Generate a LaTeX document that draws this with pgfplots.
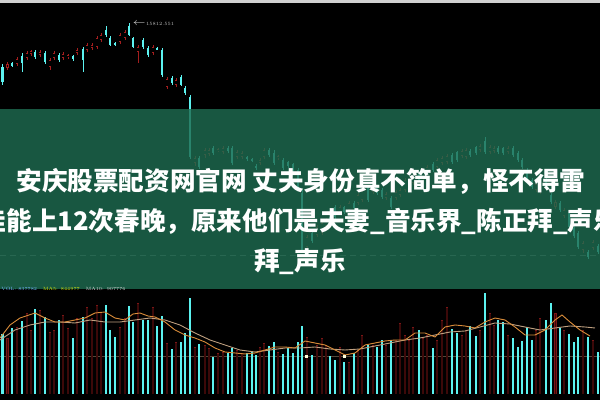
\documentclass[border=0pt]{standalone}
\usepackage{pgfplots}
\pgfplotsset{compat=1.18}
\usepackage{pgfplotstable}
\usepackage{fontspec}
\newfontfamily\cjk{Noto Sans CJK SC}
\definecolor{cy}{HTML}{5CF2F0}
\definecolor{rd}{HTML}{A41E1E}
\definecolor{rdv}{HTML}{7A1616}
\definecolor{rdfill}{HTML}{3C0909}
\definecolor{ban}{HTML}{1E6B50}
\definecolor{maA}{HTML}{D98C3A}
\definecolor{maB}{HTML}{C0A080}
\pgfplotsset{
  bar/.style 2 args={draw=none, mark=none, forget plot,
    error bars/.cd, y dir=both, y explicit, error mark=none,
    error bar style={draw=#1, line width=#2}},
}

% candles: x, wick top, body top, body bottom, wick bottom (image rows)
\pgfplotstableread{
x wt bt bb wb
2.7 64 67 82 85
12 62 63 66 67
22 53 56 63 72
35 50 52 57 59
45 51 53 62 64
59 53 55 60 62
73 55 56 59 61
83 47 49 60 72
106 26 30 35 37
110 36 38 45 46
115 42 43 44.5 46
129 23 26 35 36
133 37 38 47 48
143 38 40 47 49
148 46 48 55 57
157 47 48 49.5 50
162 48 50 75 77
172 76 78 83 85
181 75 77 85 86
185 86 88 93 95
190 95 97 157 159
199 156 158 167 169
213 146 148 153 155
228 146 148 151 153
232 146 148 163 165
247 156 157 159 161
252 158 159.5 161 162
256 164 166 168 170
269 148 150 155 157
274 150 153 163 165
283 158 160 168 170
288 161 162 166 168
293 163 164 170 172
298 168 170 188 190
302 190 193 250 253
312 231 233 241 243
330 215 217 223 225
335 205 207 217 219
344 206 207 212 214
354 201 203 208 210
368 185 187 200 202
377 186 188 193 195
382 188 190 197 199
391 196 198 207 209
419 172 174 180 182
433 162 164 170 172
452 153 155 162 164
457 151 152 160 162
470 149 151 155 157
476 146 147 153 155
485 137 141 152 154
498 146 148 152 154
503 147 148 153 155
513 146 148 155 157
518 151 153 160 162
522 158 160 167 169
527 168 170 178 180
532 178 180 187 189
546 178 180 188 190
551 193 195 202 204
560 201 203 210 212
569 211 213 227 229
574 226 228 236 238
578 231 233 247 249
588 250 252 257 259
598 244 246 252 254
}\downc

\pgfplotstableread{
x wt bt bb wb
7.5 62 64 68 70
17 57 59 64 66
27 51 53 58 60
31 50 51 54 56
40 50 52 55 57
50 58 60 67 70
54 51 53 58 60
63 52 54 58 60
68 54 55.5 57 59
77 48 50 53 55
87 43 45 50 52
92 43 45 48 50
97 36 38 47 49
101 33 35 40 42
120 33 35 42 44
125 30 32 38 40
138 45 47 52 63
153 45 47 53 55
167 77 79 87 89
176 78 80 85 87
195 156 158 163 166
205 148 150 155 158
209 148 150 154 156
218 148 149.5 151 152
223 146 148 152 154
237 150 152 157 159
242 151 153 157 159
260 158 160 163 165
264 148 150 157 159
278 155 156.5 158 160
307 235 237 247 250
317 225 227 235 237
322 221 223 233 235
326 218 220 226 228
340 205 207 212 214
349 201 203 210 212
358 193 195 203 205
362 189 191 200 202
373 184 186 192 194
386 192 194 198 200
396 190 192 198 200
400 188 190 195 197
405 178 180 190 192
409 178 180 186 188
413 175 177 183 185
423 170 172 178 180
427 165 167 177 179
437 158 160 167 169
442 156 158 163 165
447 154 156 162 164
462 149 151 156 158
466 148 150 157 159
480 144 146 150 152
490 145 147 152 154
494 146 148 151 153
508 146 148 152 154
536 182 184 190 192
540 184 186 192 194
555.5 200 202 207 209
564 208 210 216 218
583 241 243 250 253
593 240 242 248 250
}\upc

% volume bars: x, top row (baseline at row 394)
\pgfplotstableread{
x top
2.7 334
12 328
22 321
35 309
45 317
59 320
73 338
83 317
106 305
110 330
115 337
129 306
133 322
143 320
148 320
157 326
162 316
172 349
181 342
185 333
190 298
199 344
213 357
228 353
232 348
247 353
252 351
256 355
269 346
274 342
283 354
288 348
293 353
298 342
302 326
312 355
330 356
335 360
344 362
354 353
368 345
377 347
382 340
391 340
419 330
433 348
452 329
457 333
470 326
476 336
485 293
498 320
503 322
513 338
518 347
522 341
527 327
532 340
546 320
551 303
560 328
569 334
574 342
578 337
588 337
598 352
}\volc

\pgfplotstableread{
x top
7.5 338
17 327
27 313
31 330
40 310
50 332
54 330
63 315
68 328
77 318
87 307
92 318
97 305
101 312
120 327
125 318
138 303
153 307
167 343
176 342
195 347
205 345
209 348
218 353
223 352
237 350
242 353
260 347
264 343
278 352
307 337
317 345
322 338
326 345
340 347
349 362
358 350
362 335
373 345
386 345
396 340
400 323
405 335
409 340
413 327
423 338
427 335
437 340
442 320
447 307
462 335
466 330
480 330
490 313
494 325
508 335
536 330
540 318
555.5 313
564 330
583 330
593 340
}\volr

\begin{document}
\begin{tikzpicture}
\begin{axis}[
  scale only axis, width=300pt, height=200pt,
  xmin=0, xmax=600, ymin=0, ymax=400, y dir=reverse,
  hide axis, clip=true,
]
% background
\fill[black] (axis cs:0,0) rectangle (axis cs:600,400);
\fill[white!82!black] (axis cs:0,0) rectangle (axis cs:600,2.6);
% faint grid lines
\addplot[color=white!35!black, line width=0.25pt, densely dashed, forget plot] coordinates {(0,255) (600,255)};
\addplot[color=maB!45!black, line width=0.3pt, forget plot] coordinates {(0,356) (600,356)};

% ---- candles: wicks
\addplot[bar={cy}{0.35pt}]
  table[x=x, y expr={(\thisrow{wt}+\thisrow{wb})/2}, y error expr={(\thisrow{wb}-\thisrow{wt})/2}] {\downc};
\addplot[bar={rd}{0.35pt}]
  table[x=x, y expr={(\thisrow{wt}+\thisrow{wb})/2}, y error expr={(\thisrow{wb}-\thisrow{wt})/2}] {\upc};
% bodies
\addplot[bar={cy}{1.45pt}]
  table[x=x, y expr={(\thisrow{bt}+\thisrow{bb})/2}, y error expr={(\thisrow{bb}-\thisrow{bt})/2}] {\downc};
\addplot[bar={rd}{1.4pt}]
  table[x=x, y expr={(\thisrow{bt}+\thisrow{bb})/2}, y error expr={(\thisrow{bb}-\thisrow{bt})/2}] {\upc};
\addplot[bar={black}{0.75pt}]
  table[x=x, y expr={(\thisrow{bt}+\thisrow{bb})/2}, y error expr={max((\thisrow{bb}-\thisrow{bt})/2-0.7,0)}] {\upc};

% ---- volume bars
\addplot[bar={rdv}{1.45pt}]
  table[x=x, y expr={(\thisrow{top}+394)/2}, y error expr={(394-\thisrow{top})/2}] {\volr};
\addplot[bar={rdfill}{0.85pt}]
  table[x=x, y expr={(\thisrow{top}+394.6)/2}, y error expr={(393.4-\thisrow{top})/2}] {\volr};
\addplot[bar={cy}{1.45pt}]
  table[x=x, y expr={(\thisrow{top}+394)/2}, y error expr={(394-\thisrow{top})/2}] {\volc};

% volume moving averages
\addplot[color=maB, line width=0.45pt, mark=none] coordinates {
(0,340) (15,330) (30,325) (45,322) (60,322) (75,323) (90,320) (105,322) (120,322)
(135,320) (150,318) (165,320) (180,325) (195,333) (210,340) (225,345) (240,350)
(255,352) (270,350) (285,348) (300,348) (315,347) (330,349) (345,350) (360,349)
(375,346) (390,343) (405,340) (420,338) (435,335) (450,332) (465,331) (480,327)
(495,323) (510,324) (525,327) (540,330) (555,328) (570,326) (585,327) (595,328)};
\addplot[color=maA, line width=0.45pt, mark=none] coordinates {
(0,338) (10,325) (20,318) (35,313) (45,318) (55,322) (65,322) (75,320) (85,318)
(95,313) (105,312) (115,318) (125,320) (133,314) (140,313) (148,316) (155,317)
(165,322) (175,330) (185,335) (195,338) (205,342) (215,348) (225,352) (235,353)
(245,354) (255,353) (265,350) (275,347) (285,347) (295,348) (305,341) (315,343)
(325,345) (335,350) (345,355) (355,353) (365,345) (375,343) (385,341) (395,340)
(405,340) (415,333) (425,333) (435,337) (445,327) (455,325) (465,326) (475,328)
(485,322) (495,318) (505,320) (515,327) (525,335) (535,335) (545,330) (555,320)
(562,315) (570,322) (580,330) (590,336)};
\addplot[only marks, mark=square*, mark size=0.5pt, color=white!85!yellow] coordinates {(306,356) (344,356)};

% peak label
\node[anchor=west, text=white!75!black, font=\fontsize{2.4}{3}\selectfont, inner sep=0pt] at (axis cs:132,24) {$\leftarrow$15812.551};

% ---- banner
\fill[ban, fill opacity=0.82] (axis cs:0,109.5) rectangle (axis cs:600,289.5);

% volume header
\node[anchor=west, inner sep=0pt, font=\fontsize{2.3}{3}\selectfont] at (axis cs:1,289) {\textcolor{cy!60!blue!70!white}{VOL: 837782}\hspace{3pt}\textcolor{yellow!85!green}{MA5: 844977}\hspace{3pt}\textcolor{white!85!black}{MA10: 907776}};

% title text
\node[text=white, font=\cjk\bfseries\fontsize{12.8}{15}\selectfont, inner sep=0pt] at (axis cs:301,181) {安庆股票配资网官网 丈夫身份真不简单，怪不得雷};
\node[text=white, font=\cjk\bfseries\fontsize{12.8}{15}\selectfont, inner sep=0pt] at (axis cs:300,221) {佳能上12次春晚，原来他们是夫妻\_音乐界\_陈正拜\_声乐};
\node[text=white, font=\cjk\bfseries\fontsize{12.8}{15}\selectfont, inner sep=0pt] at (axis cs:300,262) {拜\_声乐};
\end{axis}
\end{tikzpicture}
\end{document}
